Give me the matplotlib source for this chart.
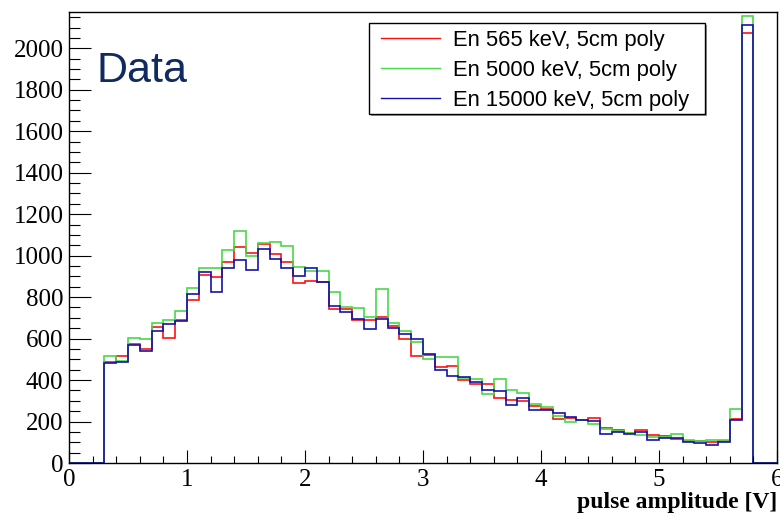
import numpy as np
import matplotlib
matplotlib.use('Agg')
import matplotlib.pyplot as plt
from matplotlib.lines import Line2D
from matplotlib.patches import Rectangle
from matplotlib.ticker import MultipleLocator

# histogram binning: 60 bins of 0.1 V between 0 and 6 V
x_lo, x_hi, n_bins = 0.0, 6.0, 60

# counts per bin, first bin at 0.3 V, last filled bin 5.7-5.8 V
h_565 = [487, 516, 573, 548, 657, 601, 692, 784, 909, 895,
         967, 1040, 1013, 1054, 1010, 970, 866, 879, 871, 745,
         744, 689, 689, 702, 662, 599, 517, 519, 464, 469,
         401, 379, 379, 312, 304, 300, 275, 262, 212, 215,
         206, 216, 169, 158, 147, 159, 135, 130, 117, 106,
         104, 100, 108, 212, 2076]
h_5000 = [516, 493, 601, 596, 676, 692, 731, 842, 941, 938,
          1026, 1117, 998, 1059, 1064, 1046, 943, 924, 927, 823,
          753, 749, 705, 837, 673, 638, 582, 500, 511, 511,
          409, 405, 331, 406, 353, 336, 284, 270, 227, 199,
          206, 189, 165, 153, 146, 133, 127, 124, 140, 109,
          106, 109, 110, 260, 2158]
h_15000 = [483, 487, 570, 541, 638, 671, 683, 813, 919, 827,
           942, 977, 933, 1033, 986, 941, 900, 941, 874, 758,
           726, 696, 647, 696, 649, 623, 598, 527, 450, 421,
           414, 390, 352, 349, 281, 313, 255, 255, 241, 220,
           206, 204, 141, 149, 141, 148, 109, 119, 122, 100,
           96, 87, 100, 207, 2114]
first_bin = 3  # index of the 0.3 V bin

labels = ['En 565 keV, 5cm poly', 'En 5000 keV, 5cm poly', 'En 15000 keV, 5cm poly']
colors = ['#ff1010', '#4ad84a', '#1414a8']

W, H = 780, 515
fig = plt.figure(figsize=(W / 100, H / 100), dpi=100)
ax = fig.add_axes([69 / W, 1 - 463 / H, (777 - 69) / W, (463 - 12) / H])

edges = np.linspace(x_lo, x_hi, n_bins + 1)
for data, col in zip([h_565, h_5000, h_15000], colors):
    vals = np.zeros(n_bins)
    vals[first_bin:first_bin + len(data)] = data
    ax.stairs(vals, edges, color=col, lw=1.2)

ax.set_xlim(0, 6)
ax.set_ylim(0, 2175)

# ROOT-like axes: inward ticks on bottom/left only
ax.xaxis.set_major_locator(MultipleLocator(1))
ax.xaxis.set_minor_locator(MultipleLocator(0.2))
ax.yaxis.set_major_locator(MultipleLocator(200))
ax.yaxis.set_minor_locator(MultipleLocator(50))
ax.tick_params(labelsize=18, labelfontfamily='Liberation Serif')
ax.tick_params(axis='x', which='major', direction='in', length=9.5, width=0.8, pad=4)
ax.tick_params(axis='x', which='minor', direction='in', length=5, width=0.8)
ax.tick_params(axis='y', which='major', direction='in', length=15.5, width=0.8, pad=4)
ax.tick_params(axis='y', which='minor', direction='in', length=8, width=0.8)
for sp in ax.spines.values():
    sp.set_linewidth(1.0)

fig.text(777 / W, 1 - 508 / H, 'pulse amplitude [V]', ha='right', va='baseline',
         fontfamily='Liberation Serif', fontweight='bold', fontsize=17)

fig.text(97 / W, 1 - 82 / H, 'Data', ha='left', va='baseline',
         fontfamily='Liberation Sans', fontsize=31, color='#112a60')

# legend box drawn by hand in pixel positions, with a small drop shadow
lx0, lx1, ly0, ly1 = 369, 705, 23, 114
fig.patches.append(Rectangle(((lx0 + 2) / W, 1 - (ly1 + 2) / H), (lx1 - lx0) / W, (ly1 - ly0) / H,
                             transform=fig.transFigure, facecolor='#999999', edgecolor='none'))
fig.patches.append(Rectangle((lx0 / W, 1 - ly1 / H), (lx1 - lx0) / W, (ly1 - ly0) / H,
                             transform=fig.transFigure, facecolor='white', edgecolor='black', lw=1.0))
for i, (lab, col) in enumerate(zip(labels, colors)):
    yy = 1 - (38 + 30 * i) / H
    fig.lines.append(Line2D([381 / W, 440 / W], [yy, yy], transform=fig.transFigure,
                            color=col, lw=1.0))
    fig.text(453 / W, yy, lab, ha='left', va='center_baseline',
             fontfamily='Liberation Sans', fontsize=15.8)

fig.savefig('out.png', dpi=100)
